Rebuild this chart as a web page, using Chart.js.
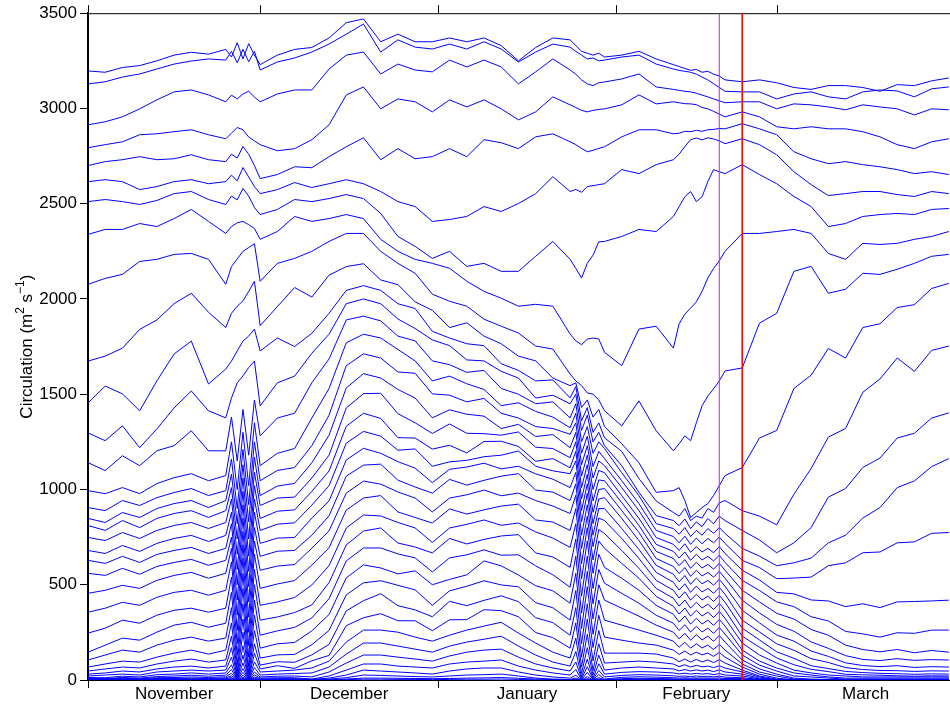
<!DOCTYPE html>
<html>
<head>
<meta charset="utf-8">
<title>Circulation</title>
<script src="https://cdn.jsdelivr.net/npm/chart.js@4.4.1/dist/chart.umd.min.js"></script>
<style>
  html, body { margin: 0; padding: 0; background: #ffffff; }
  #box { position: relative; width: 950px; height: 704px; }
</style>
</head>
<body>
<div id="box"><canvas id="chart" width="950" height="704"></canvas></div>
<script>
// Day of the season, counted from 1 November (daily in the three disturbed spells)
const days = [0,3,6,9,12,15,18,21,24,25,26,27,28,29,30,33,36,39,42,45,48,51,54,57,60,63,66,69,72,75,78,81,84,85,86,87,88,89,90,93,96,99,102,103,104,105,106,107,108,109,110,111,114,117,120,123,126,129,132,135,138,141,144,147,150];
const monthStarts = [0, 30, 61, 92, 120];
const monthNames = ['November', 'December', 'January', 'February', 'March'];
const seasonEnd = 151;
const yTicks = [0, 500, 1000, 1500, 2000, 2500, 3000, 3500];
const markerDays = [110, 114];

// Circulation time series, one per contour, outermost first (m^2 s^-1)
const c01 = [3197,3190,3215,3225,3250,3280,3295,3285,3310,3270,3345,3260,3340,3280,3230,3280,3310,3320,3370,3450,3470,3350,3390,3350,3350,3370,3350,3370,3330,3250,3320,3370,3360,3330,3300,3290,3280,3290,3270,3280,3300,3260,3230,3220,3210,3200,3205,3190,3195,3180,3170,3150,3140,3150,3135,3110,3100,3120,3120,3110,3090,3125,3120,3145,3160];
const c02 = [3129,3140,3165,3181,3207,3233,3249,3260,3254,3300,3240,3310,3245,3300,3202,3244,3265,3296,3338,3390,3443,3296,3360,3322,3312,3338,3312,3350,3312,3244,3296,3338,3322,3300,3280,3260,3265,3250,3254,3270,3280,3233,3207,3200,3195,3190,3180,3165,3150,3130,3110,3090,3087,3087,3050,3076,3087,3061,3050,3087,3097,3092,3061,3103,3113];
const c03 = [2914,2930,2956,2998,3045,3087,3097,3071,3035,3070,3050,3076,3090,3060,3035,3076,3097,3097,3207,3280,3296,3181,3233,3202,3192,3254,3218,3254,3218,3129,3192,3260,3202,3180,3150,3129,3120,3135,3139,3155,3181,3113,3100,3095,3090,3087,3080,3070,3061,3050,3040,3030,3035,3035,2998,3024,3019,3008,2993,3019,3008,2998,2966,2998,2993];
const c04 = [2794,2810,2825,2862,2867,2878,2888,2862,2841,2870,2900,2888,2850,2830,2810,2778,2789,2836,2914,3071,3113,2998,3050,3035,2982,3045,3008,3045,2998,2940,2982,3061,3019,3005,2990,2982,2990,2995,2998,3019,3071,3024,3035,3030,3025,3024,3020,3005,2998,2985,2970,2956,2982,2956,2904,2893,2904,2893,2893,2878,2851,2810,2789,2825,2841];
const c05 = [2700,2721,2731,2747,2731,2736,2757,2731,2721,2760,2740,2800,2760,2700,2632,2653,2694,2689,2747,2799,2846,2731,2789,2736,2747,2789,2747,2836,2820,2789,2851,2867,2825,2810,2790,2773,2780,2790,2799,2851,2888,2888,2867,2870,2880,2878,2885,2880,2888,2890,2895,2893,2920,2893,2862,2773,2736,2710,2721,2705,2694,2679,2658,2668,2653];
const c06 = [2616,2626,2616,2574,2590,2616,2626,2605,2616,2650,2620,2690,2640,2590,2553,2574,2611,2585,2605,2626,2605,2564,2511,2485,2407,2417,2433,2485,2459,2501,2553,2642,2564,2575,2560,2590,2595,2600,2605,2679,2658,2705,2731,2760,2800,2836,2845,2835,2846,2840,2830,2815,2841,2810,2757,2668,2600,2543,2553,2564,2564,2548,2538,2564,2553];
const c07 = [2511,2522,2511,2496,2517,2553,2564,2522,2496,2540,2520,2580,2540,2480,2443,2470,2522,2511,2527,2548,2527,2449,2328,2276,2213,2250,2171,2187,2145,2145,2224,2302,2208,2160,2110,2187,2230,2300,2302,2328,2365,2354,2433,2485,2537,2564,2511,2537,2616,2679,2668,2658,2705,2653,2605,2538,2485,2380,2396,2433,2443,2449,2443,2470,2475];
const c08 = [2339,2365,2365,2396,2380,2422,2470,2407,2344,2380,2400,2407,2390,2370,2313,2354,2433,2407,2422,2443,2422,2313,2250,2208,2187,2161,2093,2040,2004,1962,1972,1962,1816,1780,1760,1789,1795,1790,1720,1650,1842,1857,1742,1870,1920,1952,1985,2040,2110,2160,2200,2250,2344,2344,2354,2365,2344,2239,2208,2292,2286,2292,2313,2328,2354];
const c09 = [2077,2108,2129,2197,2208,2234,2239,2208,2077,2170,2210,2250,2270,2290,2093,2187,2213,2250,2302,2344,2344,2250,2187,2135,2025,1988,1962,1894,1857,1821,1753,1737,1606,1570,1545,1507,1500,1470,1413,1334,1465,1308,1203,1240,1282,1256,1350,1439,1491,1528,1570,1622,1638,1873,1925,2145,2171,2030,2051,2135,2129,2156,2187,2224,2234];
const c10 = [1674,1700,1742,1840,1890,1975,2030,1930,1850,1925,1962,1990,2040,2093,1860,1960,2060,2010,2125,2170,2185,2100,2075,1985,1940,1850,1875,1805,1765,1700,1675,1585,1545,1560,1430,1470,1380,1420,1330,1240,1140,985,994,1010,942,853,879,905,926,968,1020,1073,1115,1270,1310,1530,1600,1740,1690,1850,1870,1955,1970,2055,2082];
const c11 = [1454,1543,1502,1413,1570,1711,1779,1554,1632,1674,1727,1779,1805,1842,1727,1795,1750,1820,1925,2045,2070,2045,1975,1950,1830,1795,1765,1755,1660,1625,1570,1575,1481,1540,1360,1430,1300,1350,1271,1200,1057,940,879,860,900,837,860,850,900,880,930,942,889,860,815,975,1110,1275,1320,1510,1580,1690,1620,1730,1753];
const c12 = [1297,1256,1334,1219,1318,1428,1517,1413,1376,1480,1560,1596,1640,1674,1439,1560,1595,1715,1815,1975,2000,1975,1895,1845,1785,1755,1680,1675,1620,1585,1480,1495,1450,1500,1310,1390,1250,1300,1230,1125,985,863,837,810,845,795,830,805,848,820,860,837,785,735,668,720,800,960,1005,1115,1165,1270,1295,1375,1402];
const c13 = [1141,1099,1177,1125,1203,1230,1308,1203,1203,1380,1150,1420,1180,1470,1282,1375,1400,1560,1685,1890,1910,1885,1805,1780,1675,1655,1615,1625,1530,1500,1450,1460,1376,1450,1250,1330,1190,1250,1215,1088,968,821,795,765,800,753,785,760,795,770,800,769,691,650,600,615,640,720,760,850,905,1010,1045,1120,1162];
const c14 = [994,978,1010,978,1031,1062,1083,1046,1073,1250,1000,1300,1020,1350,1125,1190,1215,1375,1530,1770,1815,1795,1735,1675,1570,1595,1555,1525,1440,1455,1410,1380,1324,1400,1190,1280,1120,1200,1162,1046,926,785,753,720,755,712,745,715,743,720,750,717,628,590,532,535,540,600,615,668,672,720,725,770,774];
const c15 = [905,889,942,916,957,984,1005,968,994,1160,900,1210,920,1250,1046,1100,1115,1230,1390,1650,1712,1690,1617,1610,1502,1495,1460,1478,1400,1375,1330,1320,1290,1350,1130,1230,1060,1150,1125,1010,889,748,712,680,715,670,700,672,691,668,700,664,576,525,460,452,420,415,385,400,380,410,412,415,419];
const c16 = [848,827,879,853,900,926,942,905,942,1080,820,1130,830,1170,968,1018,1032,1140,1285,1533,1608,1585,1525,1480,1376,1418,1395,1385,1320,1342,1278,1288,1219,1300,1070,1180,1000,1100,1088,968,848,712,675,640,672,628,660,630,649,625,655,617,523,470,410,385,332,310,255,242,225,248,245,262,262];
const c17 = [811,785,837,800,848,874,889,853,889,1010,740,1060,740,1090,916,955,960,1060,1180,1428,1503,1505,1398,1350,1294,1344,1295,1293,1285,1302,1222,1215,1167,1250,1010,1130,940,1050,1046,931,811,675,638,600,632,586,618,588,607,582,612,576,471,410,350,320,265,235,183,160,148,160,143,155,146];
const c18 = [748,732,774,743,785,811,827,795,827,950,660,990,650,1020,848,886,893,990,1097,1332,1400,1373,1272,1270,1212,1232,1192,1252,1253,1226,1148,1162,1114,1200,950,1080,880,1000,1005,889,774,638,596,558,590,544,576,546,565,540,570,534,419,352,292,256,200,166,128,108,102,112,103,107,105];
const c19 = [680,664,706,675,717,743,759,727,759,880,580,920,570,950,785,818,825,918,1020,1243,1305,1280,1206,1213,1122,1145,1153,1172,1180,1202,1122,1098,1083,1150,890,1030,820,950,957,848,732,602,555,515,548,502,535,505,523,498,528,492,366,300,236,204,152,124,90,76,70,75,66,70,68];
const c20 = [628,612,649,617,659,680,696,664,691,820,500,850,490,880,717,745,748,850,940,1155,1216,1190,1146,1112,1036,1106,1118,1138,1108,1122,1082,1054,1010,1090,830,980,760,900,900,795,685,565,513,472,505,460,493,462,481,455,486,450,314,252,190,156,112,92,65,55,50,49,45,48,47];
const c21 = [560,549,586,555,596,617,633,602,628,750,420,780,410,800,649,676,680,760,862,1070,1128,1133,1049,1013,981,1053,1023,1048,1070,1083,997,986,942,1030,760,920,700,850,837,743,638,523,471,430,463,419,450,420,440,412,444,408,272,210,148,114,75,60,45,39,35,33,30,32,31];
const c22 = [455,471,497,481,523,549,565,534,560,690,340,710,330,730,576,598,606,692,783,981,1044,1028,987,955,882,955,972,997,967,981,942,913,874,970,690,860,630,790,769,680,586,481,429,388,420,377,408,378,398,370,402,366,230,172,116,80,56,44,30,27,25,22,20,22,21];
const c23 = [356,377,408,392,434,460,471,445,471,620,260,640,250,660,481,504,522,603,694,892,955,968,882,853,824,898,871,893,913,923,840,829,785,900,610,800,560,730,691,612,534,439,387,346,378,335,366,336,356,328,360,324,194,131,89,52,37,26,21,16,16,16,16,16,16];
const c24 = [246,272,314,298,340,366,377,356,377,540,190,560,180,580,392,410,433,499,600,798,866,861,827,798,722,798,817,840,812,824,777,745,696,820,530,730,480,660,591,534,471,392,345,304,336,293,324,294,314,287,318,283,157,99,63,37,26,16,10,10,10,10,10,10,10];
const c25 = [146,183,220,209,251,288,303,277,298,460,130,480,120,500,314,331,354,394,511,709,782,798,719,698,667,743,714,738,756,763,667,646,591,740,440,650,400,580,508,455,403,340,298,260,290,251,282,252,272,245,276,241,131,78,47,21,16,10,5,5,5,5,5,5,5];
const c26 = [105,131,157,146,183,209,225,204,220,380,80,400,70,420,235,258,276,326,427,625,693,693,662,641,567,641,657,683,655,657,599,552,487,650,350,570,320,500,419,377,335,288,251,216,245,209,238,210,230,203,234,199,105,58,31,10,5,2,2,2,2,2,2,2,2];
const c27 = [68,84,99,94,120,141,157,136,157,300,45,320,40,340,167,190,197,258,344,536,604,588,557,573,500,528,552,625,599,551,495,468,403,560,270,490,240,420,314,288,262,235,204,172,198,167,190,168,183,160,187,157,84,42,21,5,2,1,1,1,1,1,1,1,1];
const c28 = [47,58,68,63,84,99,110,94,105,230,25,250,20,260,115,132,134,185,260,447,510,521,497,473,392,468,492,521,499,489,406,379,314,470,190,400,170,340,225,209,194,183,157,134,152,131,146,132,141,124,145,120,68,31,10,1,1,0,0,0,0,0,0,0,0];
const c29 = [31,37,47,42,58,68,73,63,73,170,12,180,10,190,78,96,93,132,187,363,416,453,390,368,332,413,390,418,442,411,327,301,235,380,120,320,100,260,141,141,141,136,115,96,110,94,108,95,105,91,107,89,52,21,5,0,0,0,0,0,0,0,0,0,0];
const c30 = [21,26,31,26,42,47,52,47,52,120,6,130,5,140,58,75,61,101,129,285,327,348,311,311,259,316,317,369,364,332,249,222,167,300,70,240,50,190,89,94,99,94,84,70,80,68,77,69,73,65,75,63,42,16,0,0,0,0,0,0,0,0,0,0,0];
const c31 = [13,12,20,16,28,31,37,31,37,80,3,90,2,95,42,47,52,63,99,199,262,262,251,225,204,235,262,283,303,246,194,146,115,220,35,170,25,130,52,63,68,63,58,48,55,47,53,47,52,44,53,42,31,10,0,0,0,0,0,0,0,0,0,0,0];
const c32 = [10,8,13,10,18,21,25,20,26,55,2,60,1,65,26,31,34,37,68,136,194,194,178,162,146,178,199,214,230,178,131,94,73,150,15,110,10,85,31,40,44,42,37,32,36,31,35,31,34,28,34,26,21,6,0,0,0,0,0,0,0,0,0,0,0];
const c33 = [7,5,9,7,12,13,16,13,17,35,1,40,1,42,16,20,21,16,42,89,131,131,120,110,99,126,146,157,162,120,84,63,47,95,6,70,4,50,16,24,28,26,22,19,21,18,21,18,20,16,20,15,12,3,0,0,0,0,0,0,0,0,0,0,0];
const c34 = [5,3,6,4,8,8,10,8,11,22,1,25,0,27,10,12,12,5,21,52,84,84,73,68,63,84,94,99,105,73,52,37,26,55,2,40,1,28,5,14,17,15,12,10,12,10,11,10,11,9,11,8,7,1,0,0,0,0,0,0,0,0,0,0,0];
const c35 = [3,2,4,2,5,5,6,5,7,13,0,15,0,16,6,7,7,3,10,26,52,47,42,37,31,47,58,63,63,42,26,16,10,25,0,18,0,12,2,7,9,8,6,5,6,5,6,5,6,4,5,4,4,0,0,0,0,0,0,0,0,0,0,0,0];
const c36 = [2,1,2,1,3,3,4,3,4,7,0,8,0,9,3,4,4,2,5,12,26,24,21,18,16,21,26,28,31,21,10,5,3,10,0,7,0,5,1,3,4,4,3,2,3,2,3,2,3,2,3,2,2,0,0,0,0,0,0,0,0,0,0,0,0];
const c37 = [1,1,1,1,2,2,2,2,2,4,0,4,0,5,2,2,2,1,2,5,10,10,9,8,7,8,10,11,13,9,5,2,1,4,0,3,0,2,0,1,2,2,1,1,1,1,1,1,1,1,1,1,1,0,0,0,0,0,0,0,0,0,0,0,0];
const c38 = [0,0,1,0,1,1,1,1,1,2,0,2,0,2,1,1,1,0,1,2,4,4,3,3,2,3,4,4,5,3,1,0,0,2,0,1,0,1,0,0,1,1,0,0,0,0,0,0,0,0,0,0,0,0,0,0,0,0,0,0,0,0,0,0,0];

const curves = [c01,c02,c03,c04,c05,c06,c07,c08,c09,c10,c11,c12,c13,c14,c15,c16,c17,c18,c19,
                c20,c21,c22,c23,c24,c25,c26,c27,c28,c29,c30,c31,c32,c33,c34,c35,c36,c37,c38];

const FONT = '"Liberation Sans", Arial, Helvetica, sans-serif';
const Y_MIN = yTicks[0];
const Y_MAX = yTicks[yTicks.length - 1];

// Frame, month ticks and month names along the time axis
const frame = {
  id: 'frame',
  beforeDatasetsDraw(chart) {
    const { ctx, chartArea: a, scales: { x } } = chart;
    ctx.save();
    ctx.strokeStyle = '#000000';
    ctx.lineWidth = 1;
    ctx.beginPath();
    ctx.moveTo(a.left, a.top + 0.5);
    ctx.lineTo(a.right, a.top + 0.5);
    ctx.moveTo(a.left, a.bottom + 0.5);
    ctx.lineTo(a.right, a.bottom + 0.5);
    for (const d of monthStarts) {
      const px = Math.round(x.getPixelForValue(d)) + 0.5;
      ctx.moveTo(px, a.top);
      ctx.lineTo(px, a.top - 8);
      ctx.moveTo(px, a.bottom);
      ctx.lineTo(px, a.bottom + 8);
    }
    ctx.stroke();
    ctx.fillStyle = '#000000';
    ctx.font = '17px ' + FONT;
    ctx.textAlign = 'center';
    ctx.textBaseline = 'alphabetic';
    monthNames.forEach((name, i) => {
      const next = i + 1 < monthStarts.length ? monthStarts[i + 1] : seasonEnd;
      const cx = x.getPixelForValue((monthStarts[i] + next) / 2);
      ctx.fillText(name, cx, a.bottom + 19);
    });
    ctx.restore();
  },
  afterDraw(chart) {
    // Vertical axis title with superscript units
    const { ctx, chartArea: a } = chart;
    const parts = [['Circulation (m', false], ['2', true], [' s', false], ['\u22121', true], [')', false]];
    const big = '17px ' + FONT;
    const small = '12px ' + FONT;
    ctx.save();
    ctx.translate(27, (a.top + a.bottom) / 2);
    ctx.rotate(-Math.PI / 2);
    let w = 0;
    for (const [t, sup] of parts) { ctx.font = sup ? small : big; w += ctx.measureText(t).width; }
    let cx = -w / 2;
    ctx.fillStyle = '#000000';
    ctx.textAlign = 'left';
    ctx.textBaseline = 'middle';
    for (const [t, sup] of parts) {
      ctx.font = sup ? small : big;
      ctx.fillText(t, cx, sup ? -6 : 0);
      cx += ctx.measureText(t).width;
    }
    ctx.restore();
  }
};

const datasets = [];
markerDays.forEach((d, i) => {
  datasets.push({
    data: [{ x: d, y: Y_MIN }, { x: d, y: Y_MAX }],
    borderColor: i === 0 ? '#d21ee6' : '#ff0000',
    borderWidth: i === 0 ? 1 : 1.6,
    pointRadius: 0,
    order: -1
  });
});
curves.forEach(vals => {
  datasets.push({
    data: vals.map((v, i) => ({ x: days[i], y: v })),
    borderColor: '#0000ff',
    borderWidth: 1,
    pointRadius: 0,
    tension: 0,
    fill: false
  });
});

new Chart(document.getElementById('chart').getContext('2d'), {
  type: 'line',
  data: { datasets },
  options: {
    responsive: false,
    animation: false,
    devicePixelRatio: 1,
    events: [],
    layout: { padding: { top: 11, right: 0, bottom: 0, left: 0 } },
    plugins: { legend: { display: false }, tooltip: { enabled: false }, title: { display: false } },
    scales: {
      x: {
        type: 'linear',
        min: 0,
        max: 150.2,
        afterFit(scale) { scale.height = 24; },
        ticks: { display: false },
        grid: { display: false },
        border: { display: false }
      },
      y: {
        min: Y_MIN,
        max: Y_MAX,
        afterFit(scale) { scale.width = 88; },
        afterBuildTicks(scale) { scale.ticks = yTicks.map(v => ({ value: v })); },
        ticks: { color: '#000000', font: { family: FONT, size: 17 }, padding: 3, callback: v => String(v) },
        grid: { drawOnChartArea: false, drawTicks: true, tickLength: 8, color: '#000000' },
        border: { display: true, color: '#000000', width: 2 }
      }
    }
  },
  plugins: [frame]
});
</script>
</body>
</html>
